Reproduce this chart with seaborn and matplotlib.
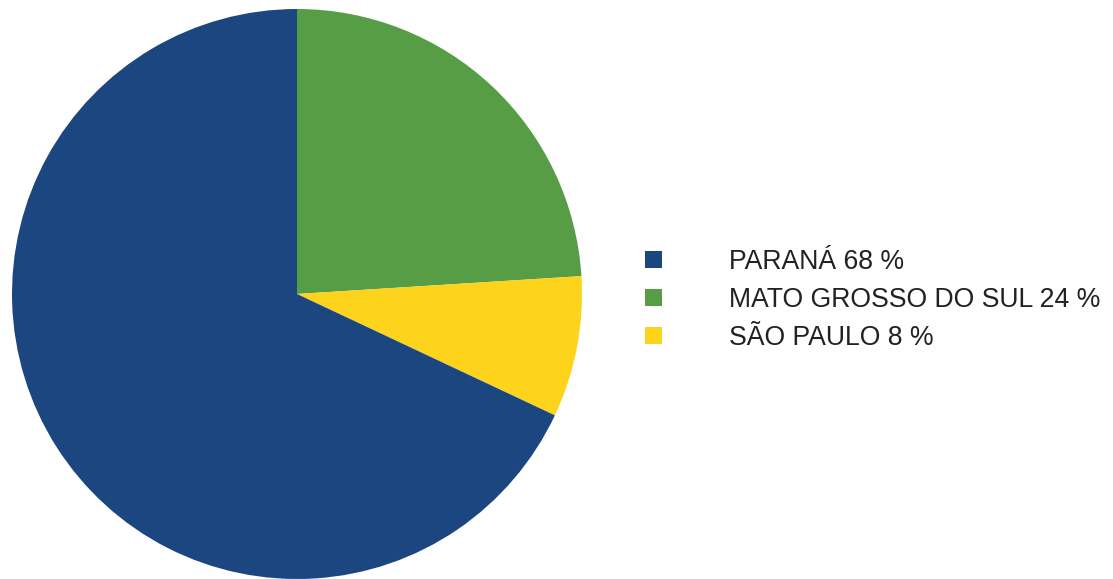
import matplotlib
matplotlib.use("Agg")
import matplotlib.pyplot as plt
import seaborn as sns
from matplotlib.patches import Patch

states = ["PARANÁ", "MATO GROSSO DO SUL", "SÃO PAULO"]
shares = [68, 24, 8]
colors = ["#1B4680", "#569D45", "#FDD31C"]

sns.set_theme(style="white")
plt.rcParams["font.family"] = ["Liberation Sans", "DejaVu Sans"]

fig = plt.figure(figsize=(11.13, 5.79), dpi=100)
ax = fig.add_axes([12 / 1113, 0 / 579, 570 / 1113, 570 / 579])

# wedges run clockwise from 12 o'clock: green, yellow, then blue
order = [1, 2, 0]
ax.pie([shares[i] for i in order], colors=[colors[i] for i in order],
       startangle=90, counterclock=False,
       wedgeprops=dict(linewidth=0, antialiased=True))
ax.set_aspect("equal")
ax.set_xlim(-1, 1)
ax.set_ylim(-1, 1)
ax.axis("off")

handles = [Patch(facecolor=c, edgecolor="none") for c in colors]
labels = [f"{s} {v} %" for s, v in zip(states, shares)]
fig.legend(handles, labels, loc="center left",
           bbox_to_anchor=(645 / 1113, 1 - 300 / 579),
           frameon=False, fontsize=19.2, handlelength=0.64, handleheight=0.64,
           handletextpad=2.5, labelspacing=0.45, borderpad=0, borderaxespad=0,
           labelcolor="#222222")

fig.savefig("out.png", dpi=100, facecolor="white")
